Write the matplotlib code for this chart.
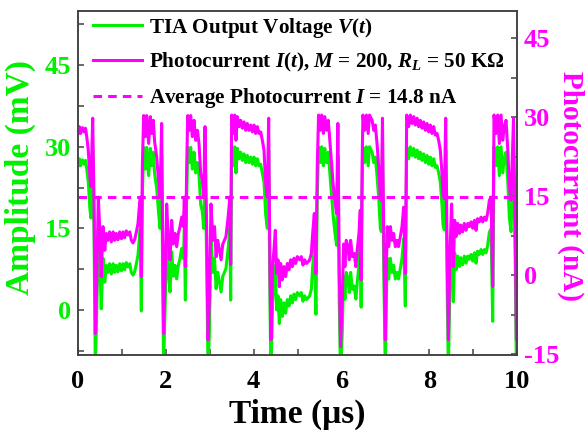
import matplotlib
matplotlib.use("Agg")
import matplotlib.pyplot as plt
from matplotlib.ticker import MultipleLocator

plt.rcParams['font.family'] = ['Liberation Serif', 'DejaVu Serif']
plt.rcParams['font.weight'] = 'bold'
plt.rcParams['axes.labelweight'] = 'bold'
plt.rcParams['axes.unicode_minus'] = False
plt.rcParams['mathtext.fontset'] = 'custom'
plt.rcParams['mathtext.rm'] = 'Liberation Serif:bold'
plt.rcParams['mathtext.it'] = 'Liberation Serif:italic:bold'

GREEN = '#00f000'
MAGENTA = '#ff00ff'

# time axis (us)
t = [0.00, 0.03, 0.06, 0.10, 0.14, 0.17, 0.20, 0.235, 0.27, 0.295,
     0.335, 0.365, 0.395, 0.425, 0.463, 0.50, 0.53, 0.57, 0.61, 0.645,
     0.683, 0.72, 0.76, 0.80, 0.835, 0.873, 0.91, 0.95, 0.99, 1.025,
     1.063, 1.10, 1.14, 1.18, 1.215, 1.253, 1.29, 1.33, 1.367, 1.397,
     1.42, 1.443, 1.466, 1.496, 1.534, 1.564, 1.61, 1.648,
     1.678, 1.716, 1.746, 1.792, 1.83, 1.868, 1.906, 1.93, 1.95, 1.99,
     2.02, 2.058, 2.096, 2.134, 2.172, 2.21, 2.248, 2.286, 2.324, 2.362,
     2.40, 2.423, 2.446, 2.476, 2.50, 2.537, 2.567, 2.605, 2.643, 2.681,
     2.719, 2.757, 2.795, 2.833, 2.863, 2.894, 2.932, 2.962, 2.993, 3.03,
     3.07, 3.11, 3.146, 3.184, 3.222, 3.26, 3.298, 3.336,
     3.37, 3.42, 3.46, 3.478, 3.50, 3.538, 3.568, 3.598, 3.629, 3.667,
     3.705, 3.743, 3.78, 3.82, 3.857, 3.895, 3.933, 3.971, 4.009, 4.047,
     4.085, 4.123, 4.161, 4.199, 4.237, 4.275, 4.313, 4.343, 4.373, 4.396,
     4.434, 4.464, 4.495, 4.525, 4.555, 4.586, 4.616, 4.654, 4.692, 4.73,
     4.768, 4.806, 4.844, 4.882, 4.92, 4.958, 4.996,
     5.05, 5.087, 5.125, 5.163, 5.20, 5.24, 5.277, 5.315, 5.345, 5.383,
     5.42, 5.45, 5.48, 5.52, 5.55, 5.59, 5.62, 5.66, 5.70, 5.73,
     5.77, 5.81, 5.85, 5.89, 5.92, 5.95, 5.98, 6.02, 6.05, 6.08,
     6.11, 6.15, 6.18, 6.21, 6.25, 6.29, 6.33, 6.36, 6.40, 6.43,
     6.45, 6.47, 6.49, 6.53, 6.57, 6.61, 6.64, 6.70,
     6.735, 6.773, 6.811, 6.849, 6.887, 6.91, 6.935, 6.965, 7.00, 7.025,
     7.046, 7.077, 7.115, 7.153, 7.19, 7.228, 7.266, 7.30, 7.342, 7.38,
     7.418, 7.456, 7.487, 7.532, 7.57, 7.608, 7.646, 7.684, 7.722, 7.76,
     7.798, 7.836, 7.874, 7.912, 7.95, 7.988, 8.026, 8.064, 8.102, 8.14,
     8.178, 8.215, 8.253, 8.291, 8.314, 8.345, 8.375, 8.41, 8.436,
     8.474, 8.51, 8.55, 8.58, 8.61, 8.65, 8.69, 8.72, 8.76, 8.80,
     8.84, 8.877, 8.915, 8.953, 8.99, 9.03, 9.067, 9.10, 9.14, 9.18,
     9.218, 9.256, 9.294, 9.33, 9.37, 9.408, 9.446, 9.476, 9.52, 9.56,
     9.598, 9.636, 9.674, 9.71, 9.75, 9.79, 9.826, 9.864, 9.92, 9.96,
     9.985, 10.0]

# photocurrent I(t) in nA
current = [26.9, 28.2, 26.9, 28.0, 27.2, 27.9, 26.3, 23.7, 18.7, 16.8,
           29.8, 14.2, -11.1, -2.2, 14.8, 7.9, -0.3, 9.2, 4.7, 7.9,
           6.6, 8.2, 6.3, 8.2, 6.6, 7.9, 6.7, 8.2, 6.9, 8.2,
           7.1, 8.4, 7.6, 8.2, 6.6, 6.1, 6.7, 8.2, 9.8, 12.9,
           14.8, -0.3, 20.6, 30.3, 26.3, 30.3, 25.0, 30.1,
           26.9, 29.4, 25.3, 22.5, 18.5, 14.8, 28.8, 5.0, -11.1, 1.6,
           13.5, 6.6, 2.9, 10.4, 5.9, 7.9, 5.4, 7.9, 9.2, 11.0,
           9.2, 14.8, 1.6, 20.6, 30.3, 27.5, 30.3, 26.3, 29.4, 25.6,
           27.5, 25.0, 19.3, 18.0, 14.8, 28.2, 7.9, -12.3, -4.7, 13.5,
           6.6, 9.2, 3.5, 6.6, 4.7, 2.9, 5.9, 6.6,
           7.3, 11.0, 14.8, 2.0, 30.4, 26.9, 30.4, 25.6, 30.1, 28.2,
           29.4, 27.9, 29.1, 27.5, 28.8, 27.5, 28.5, 27.2, 28.5, 26.9,
           28.2, 26.9, 27.2, 25.6, 23.7, 17.4, 14.8, 29.8, 0.3, -12.3,
           1.6, 4.8, 8.5, 0.3, 2.9, -2.2, 2.2, -0.9, 1.6, -0.3,
           2.2, 1.0, 2.9, 1.6, 3.2, 2.2, 3.5,
           2.9, 3.5, 1.9, 2.9, 2.2, 2.5, 2.9, 4.1, 7.9, 11.7,
           0.3, 20.6, 30.4, 27.5, 30.4, 26.9, 30.1, 27.5, 29.4, 26.3,
           21.8, 17.4, 14.2, 11.7, 28.8, 1.6, -13.6, -4.7, 5.9, 1.6,
           6.6, 5.4, 2.9, 6.6, 3.5, 4.1, 1.6, 4.8, 7.9, 12.3,
           -0.9, 20.6, 30.4, 27.5, 30.4, 26.9, 30.4, 29.4,
           27.5, 28.5, 25.0, 20.6, 14.8, 14.2, 29.8, 6.6, -12.3, 1.6,
           9.2, 5.4, 9.2, 6.6, 7.9, 5.4, 6.6, 5.4, 7.3, 9.2,
           12.9, 0.3, 30.4, 28.2, 30.4, 28.8, 30.1, 28.5, 29.8, 28.2,
           29.4, 27.9, 29.1, 27.5, 28.8, 27.2, 28.5, 26.9, 28.2, 26.6,
           26.9, 25.6, 23.7, 19.3, 15.5, 14.5, 29.8, 3.0, -12.3,
           4.7, 13.5, 1.6, 10.4, 7.3, 9.8, 7.9, 9.5, 8.2, 9.8,
           8.5, 9.8, 9.2, 10.1, 8.9, 10.4, 8.5, 10.7, 10.1, 11.0,
           10.1, 11.0, 10.4, 11.7, 14.2, 14.8, -2.2, 30.4, 26.9, 30.4,
           25.0, 30.4, 25.6, 28.2, 29.4, 23.7, 16.8, 14.2, 29.8, 8.0,
           -12.3, -12.3]

# TIA output voltage V(t) in mV
voltage = [26.5, 27.8, 26.5, 27.6, 26.8, 27.5, 25.9, 23.5, 18.7, 16.9,
           29.4, 14.4, -10.2, -1.6, 15.0, 8.2, 0.2, 9.5, 5.1, 8.2,
           6.9, 8.5, 6.6, 8.5, 6.9, 8.2, 7.0, 8.5, 7.2, 8.5,
           7.4, 8.7, 7.9, 8.5, 6.9, 6.4, 7.0, 8.5, 10.1, 13.1,
           15.0, -0.2, 20.6, 29.9, 25.9, 29.9, 24.7, 29.7,
           26.5, 29.0, 25.0, 22.4, 18.5, 15.0, 28.4, 5.4, -10.2, 2.1,
           13.7, 6.9, 3.3, 10.7, 6.2, 8.2, 5.7, 8.2, 9.5, 11.3,
           9.5, 15.0, 1.8, 20.6, 29.9, 27.1, 29.9, 25.9, 29.0, 25.2,
           27.1, 24.7, 19.3, 18.1, 15.0, 27.8, 8.2, -11.2, -4.0, 13.7,
           6.9, 9.5, 3.9, 6.9, 5.1, 3.3, 6.2, 6.9,
           7.6, 11.3, 15.0, 1.8, 30.0, 26.5, 30.0, 25.2, 29.7, 27.8,
           29.0, 27.5, 28.7, 27.1, 28.4, 27.1, 28.1, 26.8, 28.1, 26.5,
           27.8, 26.5, 26.8, 25.2, 23.5, 17.5, 15.0, 29.4, 0.7, -11.2,
           1.4, 4.5, 8.2, 0.0, 2.6, -2.5, 1.9, -1.2, 1.3, -0.6,
           1.9, 0.7, 2.6, 1.3, 2.9, 1.9, 3.2,
           2.6, 3.2, 1.6, 2.6, 1.9, 2.2, 2.6, 3.8, 7.8, 11.8,
           -0.8, 20.6, 30.0, 27.1, 30.0, 26.5, 29.7, 27.1, 29.0, 25.9,
           21.7, 17.5, 14.4, 11.9, 28.4, 2.1, -12.5, -4.0, 6.2, 2.0,
           6.9, 5.7, 3.2, 6.9, 3.8, 4.4, 2.0, 5.1, 8.2, 12.5,
           0.5, 20.6, 30.0, 27.1, 30.0, 26.5, 30.0, 29.0,
           27.1, 28.1, 24.7, 20.6, 15.0, 14.4, 29.4, 6.9, -11.2, 2.0,
           9.5, 5.7, 9.5, 6.9, 8.2, 5.7, 6.9, 5.7, 7.6, 9.5,
           13.1, 0.7, 30.0, 27.8, 30.0, 28.4, 29.7, 28.1, 29.4, 27.8,
           29.0, 27.5, 28.7, 27.1, 28.4, 26.8, 28.1, 26.5, 27.8, 26.2,
           26.5, 25.2, 23.5, 19.3, 15.7, 14.7, 29.4, 3.3, -11.2,
           5.0, 13.7, 1.5, 10.5, 7.4, 9.9, 8.0, 9.6, 8.3, 9.9,
           8.6, 9.9, 9.3, 10.2, 9.0, 10.5, 8.6, 10.8, 10.2, 11.1,
           10.2, 11.1, 10.5, 11.8, 14.3, 14.9, -2.1, 30.0, 26.5, 30.0,
           24.7, 30.0, 25.2, 27.8, 29.0, 23.5, 16.9, 14.4, 29.4, 8.3,
           -11.2, -11.2]

avg_current = 14.8

fig = plt.figure(figsize=(5.85, 4.33), dpi=100)
ax = fig.add_axes([0.1333, 0.180, 0.7505, 0.795])
ax2 = ax.twinx()

l1, = ax.plot(t, voltage, color=GREEN, lw=2.2, label='TIA Output Voltage $V$($t$)')
l2, = ax2.plot(t, current, color=MAGENTA, lw=2.2,
               label='Photocurrent $I$($t$), $M$ = 200, $R_L$ = 50 K\u03a9')
l3 = ax2.axhline(avg_current, color=MAGENTA, lw=2.2, ls=(0, (2.8, 2.0)),
                 label='Average Photocurrent $I$ = 14.8 nA')

ax.set_xlim(0, 10)
ax.set_ylim(-8.3, 55)
ax2.set_ylim(-15.2, 50.2)

ax.xaxis.set_major_locator(MultipleLocator(2))
ax.xaxis.set_minor_locator(MultipleLocator(1))
ax.yaxis.set_major_locator(MultipleLocator(15))
ax.yaxis.set_minor_locator(MultipleLocator(7.5))
ax2.yaxis.set_major_locator(MultipleLocator(15))
ax2.yaxis.set_minor_locator(MultipleLocator(7.5))

ax.tick_params(axis='both', which='both', direction='in', top=False, right=False,
               color='#404040', width=1.1)
ax.tick_params(which='major', length=4.5, labelsize=19)
ax.tick_params(which='minor', length=4)
ax.tick_params(axis='y', labelcolor=GREEN, pad=5)
ax.tick_params(axis='x', pad=11)
ax2.tick_params(axis='y', which='both', direction='in', color='#404040', width=1.1,
                labelcolor=MAGENTA)
ax2.tick_params(which='major', length=4.5, labelsize=19, pad=5)
ax2.tick_params(which='minor', length=4)

for a in (ax, ax2):
    for s in a.spines.values():
        s.set_color('#404040')
        s.set_linewidth(1.1)

ax.set_xlabel('Time (\u03bcs)', fontsize=24, labelpad=4)
ax.set_ylabel('Amplitude (mV)', fontsize=24, color=GREEN)
ax.yaxis.set_label_coords(-0.096, 0.515)
ax2.set_ylabel('Photocurrent (nA)', fontsize=21, color=MAGENTA, rotation=270,
               va='bottom')
ax2.yaxis.set_label_coords(1.092, 0.49)

ax2.legend(handles=[l1, l2, l3], loc='upper left', bbox_to_anchor=(0.027, 0.995),
           frameon=False, fontsize=15.2, handlelength=2.3, handletextpad=0.33,
           labelspacing=0.55, borderaxespad=0.0, borderpad=0.15)

fig.savefig('out.png', dpi=100)
